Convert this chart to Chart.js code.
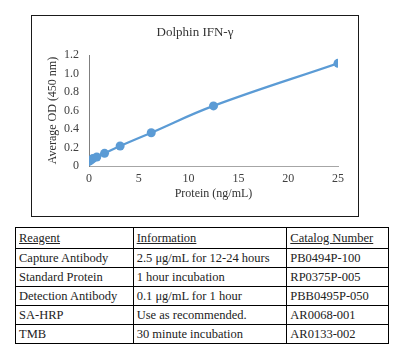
<!DOCTYPE html>
<html>
<head>
<meta charset="utf-8">
<script src="https://cdn.jsdelivr.net/npm/chart.js@4"></script>
<style>
  html, body { margin:0; padding:0; background:#fff; }
  body { width:398px; height:356px; position:relative; overflow:hidden; font-family:"Liberation Serif", "DejaVu Serif", serif; }
  #box { position:absolute; left:31px; top:15px; width:328px; height:202px; box-sizing:border-box; border:1px solid #1a1a1a; }
  #wrap { position:absolute; left:31px; top:0; width:328px; height:220px; }
  table { position:absolute; left:15px; top:227px; width:374px; border-collapse:collapse; font-size:12.5px; color:#222; }
  td { border:1px solid #000; padding:0 0 0 3px; height:18px; white-space:nowrap; }
  tr.h td { height:20px; text-decoration:underline; }
</style>
</head>
<body>
<div id="box"></div>
<div id="wrap"><canvas id="c" width="328" height="220"></canvas></div>
<table>
  <colgroup><col style="width:118px"><col style="width:154px"><col style="width:102px"></colgroup>
  <tbody id="tb"></tbody>
</table>
<script>
const concentrations = [0, 0.195, 0.39, 0.78, 1.56, 3.125, 6.25, 12.5, 25];
const odValues = [0.05, 0.065, 0.08, 0.097, 0.137, 0.216, 0.36, 0.65, 1.11];
const tableHeader = ["Reagent", "Information", "Catalog Number"];
const reagents = ["Capture Antibody", "Standard Protein", "Detection Antibody", "SA-HRP", "TMB"];
const information = ["2.5 μg/mL for 12-24 hours", "1 hour incubation", "0.1 μg/mL for 1 hour", "Use as recommended.", "30 minute incubation"];
const catalogNumbers = ["PB0494P-100", "RP0375P-005", "PBB0495P-050", "AR0068-001", "AR0133-002"];

const tb = document.getElementById('tb');
const hr = document.createElement('tr'); hr.className = 'h';
tableHeader.forEach(t => { const td = document.createElement('td'); td.textContent = t; hr.appendChild(td); });
tb.appendChild(hr);
reagents.forEach((r, i) => {
  const tr = document.createElement('tr');
  [r, information[i], catalogNumbers[i]].forEach(t => { const td = document.createElement('td'); td.textContent = t; tr.appendChild(td); });
  tb.appendChild(tr);
});

const serif = "'Liberation Serif', 'DejaVu Serif', serif";
new Chart(document.getElementById('c'), {
  type: 'line',
  data: {
    datasets: [{
      data: concentrations.map((x, i) => ({x: x, y: odValues[i]})),
      borderColor: '#5B9BD5',
      backgroundColor: '#5B9BD5',
      borderWidth: 2.25,
      pointRadius: 4.5,
      pointBorderWidth: 0,
      tension: 0.4,
      fill: false
    }]
  },
  options: {
    responsive: false,
    animation: false,
    layout: { padding: { left: 0, right: 0, top: 0, bottom: 0 } },
    plugins: {
      legend: { display: false },
      tooltip: { enabled: false },
      title: {
        display: true,
        text: 'Dolphin IFN-γ',
        color: '#333',
        font: { family: serif, size: 13, weight: 'normal', lineHeight: 1.2 },
        padding: { top: 25.2, bottom: 14.2 }
      }
    },
    scales: {
      x: {
        type: 'linear', min: 0, max: 25,
        ticks: { stepSize: 5, color: '#404040', font: { family: serif, size: 12 }, padding: 6, maxRotation: 0 },
        grid: { display: true, color: 'transparent', drawTicks: false },
        border: { display: true, color: '#a6a6a6', width: 1 },
        title: { display: true, text: 'Protein (ng/mL)', color: '#333', font: { family: serif, size: 12, lineHeight: 1.2 }, padding: { top: 0, bottom: 18.8 } },
        afterFit: s => { s.height = 54; }
      },
      y: {
        min: 0, max: 1.2,
        ticks: { stepSize: 0.2, color: '#404040', font: { family: serif, size: 12 }, padding: 10 },
        grid: { display: true, color: 'transparent', drawTicks: false },
        border: { display: true, color: '#7f7f7f', width: 1 },
        title: { display: true, text: 'Average OD (450 nm)', color: '#333', font: { family: serif, size: 12, lineHeight: 1.2 }, padding: { top: 14.8, bottom: 0 } },
        afterFit: s => { s.width = 58; }
      },
      y2: {
        position: 'right', min: 0, max: 1.2,
        ticks: { display: false },
        grid: { display: false, drawTicks: false },
        border: { display: false },
        afterFit: s => { s.width = 21; }
      }
    }
  }
});
</script>
</body>
</html>
